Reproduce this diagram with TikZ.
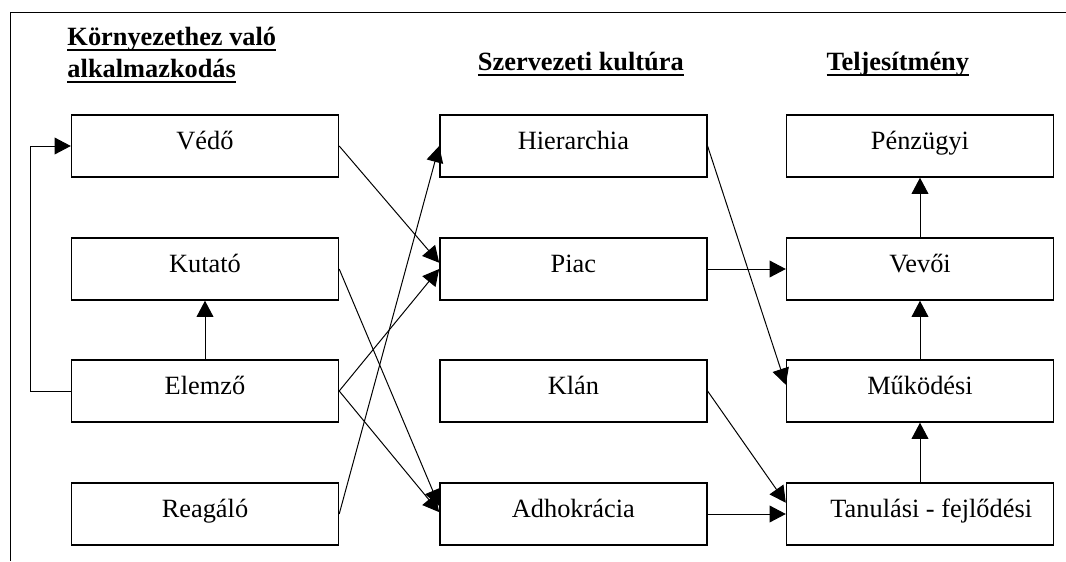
\documentclass[tikz,border=0pt]{standalone}
\usepackage{fontspec}
\setmainfont{Liberation Serif}
\usetikzlibrary{arrows.meta}
\newcommand{\hdul}[1]{\leavevmode\setbox0\hbox{#1}\rlap{\rule[-2.8pt]{\wd0}{.9pt}}\box0}
\tikzset{
  box/.style={draw, line width=.7pt, minimum width=4.27cm, minimum height=.99cm,
    inner sep=0pt, text height=6.5pt, text depth=2.9pt, font=\fontsize{12}{14}\selectfont},
  heading/.style={inner sep=0pt, align=left, font=\bfseries\fontsize{12}{14.5}\selectfont}
}
\begin{document}
\begin{tikzpicture}[>={Triangle[length=2.6mm,width=2.7mm]}, line width=.45pt]
            \useasboundingbox (0,0) rectangle (17.056,-8.976);
            \draw (17.056,-.192) -- (.16,-.192) -- (.16,-8.976);

            \node[heading, anchor=base west] (X) at (1.072,-1.232) {\hdul{Környezethez való}\\\hdul{alkalmazkodás}};
            \node[heading, anchor=base west] (Y) at (7.64,-1.12) {\hdul{Szervezeti kultúra}};
            \node[heading, anchor=base west] (Z) at (13.216,-1.12) {\hdul{Teljesítmény}};

            \node[box] (V) at (3.28,-2.336) {Védő};
            \node[box] (K) at (3.28,-4.304) {Kutató};
            \node[box] (E) at (3.28,-6.256) {Elemző};
            \node[box] (R) at (3.28,-8.224) {Reagáló};
            \node[box] (H) at (9.174,-2.336) {Hierarchia};
            \node[box] (P) at (9.174,-4.304) {Piac};
            \node[box] (L) at (9.174,-6.256) {Klán};
            \node[box] (A) at (9.174,-8.224) {Adhokrácia};
            \node[box] (F) at (14.72,-2.336) {Pénzügyi};
            \node[box] (C) at (14.72,-4.304) {Vevői};
            \node[box] (M) at (14.72,-6.256) {Működési};
            \node[box] (T) at (14.72,-8.224) {\hspace*{.36cm}Tanulási - fejlődési};

            \draw[->] (E.west) -- ++(-.64,0) |- (V.west); \draw[->] (E) to (K);
            \draw[->] (V.east) to ([yshift=.1cm]P.west); \draw[->] (E.east) to (P.west);
            \draw[->] (R.east) to (H.west);
            \draw[->] (K.east) to ([yshift=.13cm]A.west); \draw[->] (E.east) to ([yshift=.03cm]A.west);
            \draw[->] (H.east) to ([yshift=.1cm]M.west); \draw[->] (P) to (C);
            \draw[->] (L.east) to ([yshift=.18cm]T.west); \draw[->] (A) to (T);
            \draw[->] (C) to (F); \draw[->] (M) to (C); \draw[->] (T) to (M);
        \end{tikzpicture}
\end{document}
